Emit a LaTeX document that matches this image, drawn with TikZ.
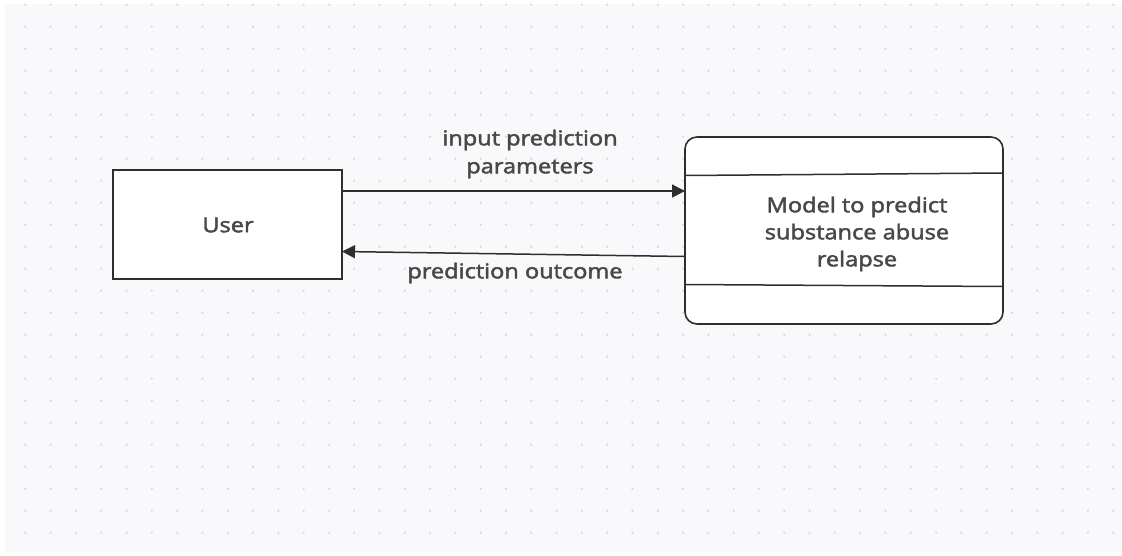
\documentclass[tikz,border=0pt]{standalone}
\usepackage{fontspec}
\setmainfont{Open Sans}
\newfontfamily\labelfont{Open Sans}[FakeBold=2]
\usetikzlibrary{arrows.meta}
\definecolor{canvas}{HTML}{F9F9FB}
\definecolor{griddot}{HTML}{DCDCE0}
\definecolor{ink}{HTML}{2E2E2E}
\definecolor{labelgray}{HTML}{484848}
\tikzset{
  box/.style={draw=ink, line width=1.6pt, fill=white},
  flow/.style={draw=ink, line width=1.5pt, -{Triangle[length=13pt,width=13pt]}},
  lbl/.style={text=labelgray, font=\labelfont\fontsize{20.5}{24}\selectfont, align=center,
    inner sep=0pt, xscale=1.15, transform shape},
}
\begin{document}
\begin{tikzpicture}[x=1pt,y=-1pt]
  \useasboundingbox (0,0) rectangle (1122,555);
  \fill[white] (0,0) rectangle (1122,555);
  % dotted canvas
  \fill[canvas] (5,4) rectangle (1122,552);
  \foreach \i in {1,...,44} {
    \foreach \j in {0,...,24} {
      \fill[griddot] (25.3*\i, 4.7+22*\j) circle (1.3);
    }
  }
  % user entity
  \node[box, minimum width=229pt, minimum height=109pt, inner sep=0pt] (user) at (227.5,224.5) {};
  \node[lbl] (usertxt) at (228,225) {User};
  % model process
  \node[box, rounded corners=12pt, minimum width=318pt, minimum height=187pt, inner sep=0pt] (model) at (844,230.5) {};
  \coordinate (topL) at (685,175.5);
  \coordinate (topR) at (1003,173);
  \coordinate (botL) at (685,284.5);
  \coordinate (botR) at (1003,286.5);
  \draw[ink, line width=1.5pt] (topL) -- (topR);
  \draw[ink, line width=1.5pt] (botL) -- (botR);
  \node[lbl] (modeltxt) at (857,234) {Model to predict\\[3pt]substance abuse\\[3pt]relapse};
  % data flows
  \coordinate (outA) at (342,191);
  \coordinate (inA) at (685,191);
  \coordinate (outB) at (685,256.5);
  \coordinate (inB) at (342,251.5);
  \draw[flow] (outA) -- (inA);
  \draw[flow] (outB) -- (inB);
  \node[lbl] (lblin) at (530,154) {input prediction\\[4pt]parameters};
  \node[lbl] (lblout) at (515,273) {prediction outcome};
\end{tikzpicture}
\end{document}
